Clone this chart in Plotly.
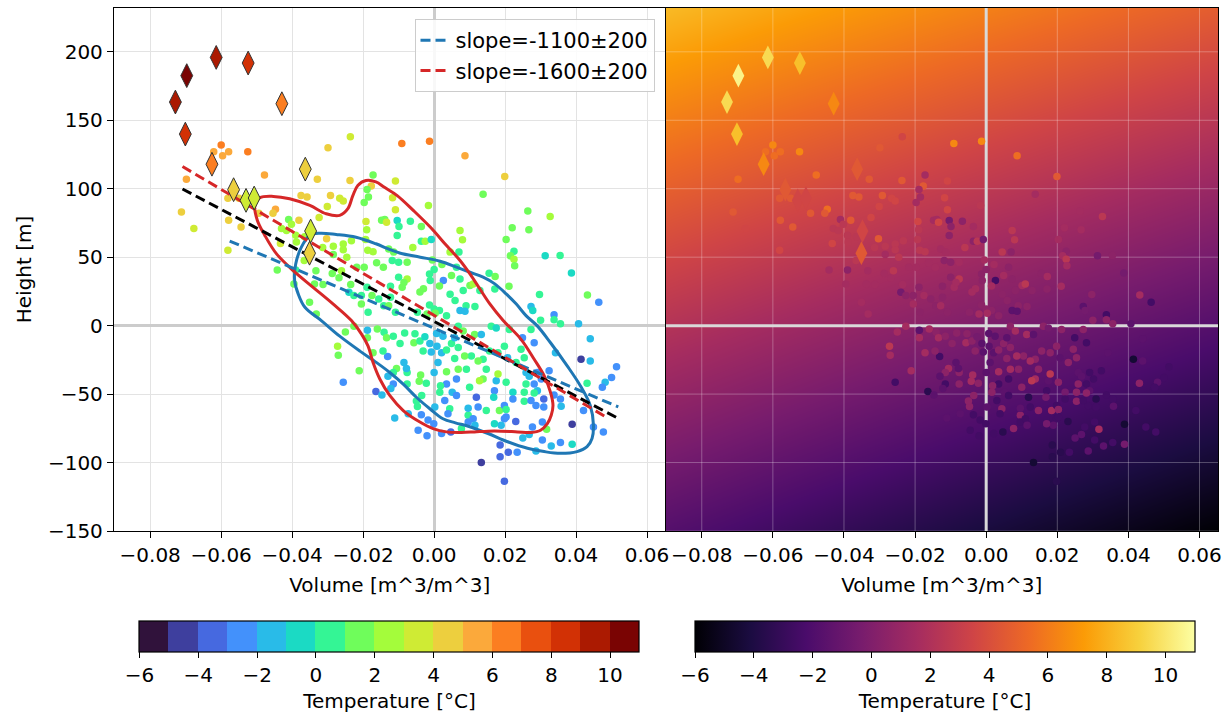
import plotly.graph_objects as go

# ---------------- data ----------------
# scatter points: volume [m^3/m^3], height [m], temperature [°C]
vol_a = [-0.0600,-0.0621,-0.0596,-0.0579,-0.0525,-0.0478,-0.0698,-0.0712,-0.0677,-0.0579,
         -0.0544,-0.0581,-0.0581,-0.0550,-0.0494,-0.0447,-0.0454,-0.0299,-0.0236,-0.0329,
         -0.0237,-0.0375,-0.0358,-0.0292,-0.0266,-0.0256,-0.0301,-0.0324,-0.0381,-0.0410,
         -0.0430,-0.0402,-0.0416,-0.0390,-0.0433,-0.0388,-0.0365,-0.0172,-0.0177,-0.0189,
         -0.0197,-0.0185,-0.0192,-0.0190,-0.0193,-0.0148,-0.0187,-0.0172,-0.0303,-0.0284,
         -0.0256,-0.0256,-0.0233,-0.0314,-0.0284,-0.0246,-0.0218,-0.0197,-0.0162,-0.0143,
         -0.0442,-0.0390,-0.0366,-0.0333,-0.0313,-0.0287,-0.0268,-0.0261,-0.0235,-0.0240,
         -0.0226,-0.0205,-0.0189,-0.0175,-0.0156,-0.0142,-0.0186,-0.0205,-0.0337,-0.0351,
         -0.0332,-0.0395]
hgt_a = [132,127,124,127,127,110,107,83,71,77,
         72,55,93,93,82,85,82,130,138,107,
         106,95,94,95,93,91,87,79,77,77.6,
         71,74,69.5,66,60,61,65,110,102,99.5,
         90,94,76,70,63,77,55,54,63.4,58,
         59.6,55.5,62,57,52,50,42.7,42.7,46,42.7,
         40.7,40.7,47.6,40,30,38,35,40,30,24.4,
         22,22,28,22,19.5,14.6,9.8,15.8,30.5,17,
         8.5,30.5]
tmp_a = [6.5,5.5,5.5,5.5,6.5,5.5,5.5,4.5,3.5,4.5,
         4.5,3.5,4.5,4.5,4.5,5.5,4.5,4.5,3.5,4.5,
         4.5,4.5,4.5,4.5,3.5,3.5,3.5,3.5,4.5,1.5,
         2.5,2.5,2.5,2.5,3.5,2.5,2.5,1.5,4.5,1.5,
         1.5,1.5,3.5,2.5,2.5,1.5,2.5,2.5,4.5,2.5,
         2.5,2.5,2.5,2.5,1.5,2.5,1.5,1.5,1.5,1.5,
         1.5,0.5,2.5,1.5,1.5,1.5,1.5,2.5,1.5,-0.5,
         0.5,0.5,0.5,1.5,0.5,0.5,0.5,1.5,1.5,1.5,
         1.5,1.5]

vol_b = [-0.0091,-0.0013,0.0087,0.0199,-0.0109,-0.0117,-0.0109,-0.0016,0.0138,0.0264,
         0.0327,-0.0139,-0.0134,-0.0104,-0.0099,-0.0104,-0.0067,-0.0036,0.0073,0.0080,
         0.0220,0.0267,0.0203,0.0225,0.0215,0.0225,0.0227,0.0313,0.0355,0.0387,
         0.0432,0.0464,0.0297,0.0273,0.0278,0.0338,-0.0060,-0.0036,-0.0025,-0.0008,
         -0.0128,-0.0114,-0.0118,-0.0100,-0.0076,-0.0005,0.0022,0.0045,0.0070,0.0063,
         0.0073,0.0049,-0.0013,-0.0011,0.0000,0.0026,0.0015,-0.0030,-0.0040,-0.0076,
         -0.0090,-0.0100,-0.0123,-0.0085,0.0045,0.0059,0.0082,0.0101,0.0110,0.0129,
         0.0155,0.0172,0.0171,0.0211,0.0090,0.0115,0.0073,0.0087,-0.0013,0.0000,
         0.0015,0.0035,-0.0047,-0.0020,0.0003,-0.0123,-0.0109,-0.0128]
hgt_b = [133,134.6,124,109,105.6,93.4,84.6,87.8,95.9,83.7,
         79.8,77.6,75.6,76.8,72.4,65.9,76.3,72.4,69.5,62.7,
         71.5,70,63,54.4,51,48.5,43.7,51,51.2,38.5,
         22.4,17,22.7,14,11,8,57,61.7,61.7,63,
         56,53.7,47.6,46.3,46.3,48,44.6,53.7,53.7,42.7,
         34,36.6,37.8,33,41,33,29,27,24.5,34.1,
         28,35.4,28.8,31.5,23,18.3,25.6,29.3,30.5,25.6,
         38.3,35.9,26.8,28.8,14.6,13.9,11,10.5,15,12.2,
         11,7.3,9.8,8.5,9,20.7,9.8,14.6]
tmp_b = [6.5,6.5,5.5,4.5,3.5,3.5,3.5,2.5,1.5,1.5,
         2.5,1.5,3.5,-0.5,0.5,0.5,0.5,1.5,2.5,2.5,
         1.5,1.5,1.5,0.5,1.5,2.5,1.5,-0.5,0.5,-0.5,
         1.5,-2.5,0.5,-1.5,-0.5,-2.5,2.5,0.5,2.5,-0.5,
         1.5,1.5,0.5,0.5,1.5,1.5,1.5,2.5,0.5,0.5,
         0.5,1.5,0.5,0.5,0.5,-2.5,1.5,1.5,1.5,2.5,
         1.5,0.5,0.5,1.5,0.5,0.5,0.5,1.5,2.5,0.5,
         0.5,1.5,0.5,1.5,0.5,0.5,-1.5,-1.5,0.5,0.5,
         0.5,0.5,0.5,1.5,1.5,0.5,0.5,1.5]

vol_c = [-0.0272,-0.0270,-0.0211,-0.0256,-0.0164,-0.0147,-0.0131,-0.0144,-0.0172,-0.0188,
         -0.0226,-0.0250,-0.0188,-0.0160,-0.0141,-0.0134,-0.0115,-0.0096,-0.0083,-0.0054,
         -0.0057,-0.0040,-0.0026,-0.0012,-0.0031,-0.0008,0.0008,0.0021,0.0035,0.0011,
         0.0000,0.0035,0.0007,0.0025,0.0049,0.0058,0.0058,0.0063,0.0068,0.0035,
         0.0018,0.0016,0.0030,0.0051,0.0044,0.0039,0.0002,-0.0017,-0.0001,0.0021,
         0.0047,-0.0020,-0.0045,-0.0036,-0.0047,-0.0050,-0.0073,-0.0111,-0.0035,-0.0042,
         -0.0038,-0.0022,-0.0076,-0.0076,-0.0085,-0.0078,-0.0106,-0.0115,-0.0130,-0.0115,
         -0.0122]
hgt_c = [-15,-21.7,-33,-41.4,-48.2,-50.6,-22.6,-18.6,-19.8,-8.9,
         -0.5,-4.6,-3.4,-2.4,-4.8,-8.9,-7.7,-13,-5.3,-6,
         -12.5,-11.3,-8.2,-13,-18.6,-19.3,-15,-19.8,-17.8,-27,
         -34.2,-33.7,-5.8,-7.7,-13,-8.9,-24,-39,-31.8,-42.7,
         -43.9,-48.7,-54.7,-48.7,-60.7,-64.3,-59.5,-69,-71.6,-78.8,
         -77.6,-80.5,-76.4,-65,-59,-55,-64.3,-67.5,-51,-40.7,
         -36,-42,-42.7,-34.2,-27,-31.3,-31.3,-34.2,-37,-42.7,
         -46]
tmp_c = [2.5,1.5,1.5,-2.5,-3.5,-1.5,-2.5,0.5,1.5,1.5,
         1.5,1.5,-1.5,1.5,0.5,1.5,0.5,0.5,0.5,0.5,
         1.5,0.5,-0.5,-1.5,0.5,-1.5,-1.5,-1.5,0.5,-1.5,
         -1.5,1.5,-1.5,-1.5,0.5,-1.5,0.5,-2.5,1.5,-2.5,
         0.5,0.5,-2.5,-1.5,0.5,-2.5,-1.5,-2.5,-2.5,-2.5,
         -3.5,-2.5,-2.5,-2.5,0.5,0.5,-1.5,-1.5,0.5,1.5,
         1.5,0.5,0.5,0.5,-1.5,-1.5,1.5,0.5,-1.5,-2.5,
         -1.5]

vol_d = [0.0068,0.0082,0.0114,0.0133,0.0161,0.0175,0.0212,0.0249,0.0273,0.0282,
         0.0300,0.0338,0.0356,0.0407,0.0440,0.0414,0.0440,0.0514,0.0500,0.0482,
         0.0474,0.0431,0.0342,0.0324,0.0291,0.0302,0.0282,0.0309,0.0291,0.0338,
         0.0356,0.0358,0.0309,0.0287,0.0421,0.0449,0.0477,0.0389,0.0317,0.0305,
         0.0277,0.0268,0.0305,0.0330,0.0356,0.0389,0.0287,0.0234,0.0209,0.0186,
         0.0186,0.0133,0.0198,0.0250,0.0230,0.0198,0.0189,0.0170,0.0096,0.0096,
         0.0110,0.0115,0.0077,0.0119,0.0096,0.0124,0.0147,0.0184,0.0198,0.0203,
         0.0203,0.0170,0.0168,0.0222,0.0222,0.0254,0.0254,0.0273,0.0282,0.0259,
         0.0203,0.0175,0.0180,0.0138,0.0128,0.0147,0.0138,0.0105,0.0124,0.0091,
         0.0100,0.0068,0.0086,0.0156,0.0180,0.0207,0.0231,0.0254,0.0245,0.0198,
         0.0259,0.0268,0.0063]
hgt_d = [-0.5,-4,-6.5,-6.5,-0.5,-1.7,-2.9,-8.9,-2.9,-12.5,
         3.9,4.3,1.4,1.4,-9.6,-24.6,-25.8,-30.1,-37.8,-41.4,
         -45,-42,-19.8,-33,-34.2,-39,-42.7,-53.5,-47.5,-50.6,
         -53.5,-58.8,-59.5,-58.3,-62,-74,-77.6,-72,-75.7,-70.4,
         -74,-79.5,-83.6,-88,-85.3,-86.7,-91.6,-92.5,-92.5,-95.7,
         -87.2,-100,-113.7,-82,-70,-68,-72.8,-71.6,-65.5,-70.4,
         -68,-72.8,-75.2,-52.3,-60.3,-59.5,-62,-62,-58.3,-61.2,
         -66.7,-47.5,-52.3,-48.7,-53.5,-55.2,-48.7,-54.7,-49.2,-42.7,
         -41.4,-40.2,-35.4,-39,-40.2,-31.8,-24.6,-22.2,-25.8,-31.8,
         -45,-16,-22.2,-18.5,-19.8,-23.4,-27,-23.4,-17.3,-15,
         -34.2,-37,-51]
tmp_d = [0.5,1.5,1.5,-1.5,0.5,-0.5,0.5,-2.5,0.5,-2.5,
         0.5,0.5,0.5,-1.5,-1.5,-4.5,-1.5,-2.5,-2.5,-1.5,
         -2.5,0.5,-1.5,-2.5,-2.5,-2.5,-2.5,-3.5,-1.5,-2.5,
         -2.5,-1.5,-2.5,-2.5,-2.5,-2.5,-2.5,-4.5,1.5,-2.5,
         -2.5,-1.5,-2.5,-1.5,-2.5,-0.5,-1.5,-2.5,-3.5,-3.5,
         -3.5,-4.5,-3.5,-1.5,-3.5,-2.5,-1.5,-0.5,0.5,-2.5,
         -2.5,-1.5,0.5,-3.5,-1.5,-2.5,0.5,1.5,-2.5,0.5,
         -2.5,-2.5,-0.5,-0.5,-2.5,0.5,0.5,-2.5,0.5,0.5,
         0.5,-1.5,2.5,1.5,2.5,0.5,0.5,0.5,1.5,0.5,
         0.5,0.5,1.5,0.5,0.5,-1.5,0.5,0.5,0.5,0.5,
         -1.5,-1.5,-2.5]

volume = vol_a + vol_b + vol_c + vol_d
height = hgt_a + hgt_b + hgt_c + hgt_d
temperature = tmp_a + tmp_b + tmp_c + tmp_d

# highlighted diamonds
dia_vol = [-0.0729,-0.0697,-0.0614,-0.0524,-0.0429,-0.0701,-0.0626,-0.0363,-0.0565,-0.0530,-0.0507,-0.0348,-0.0351]
dia_hgt = [163.3,182.6,195.9,191.8,162.1,139.9,117.9,114.3,99.3,91.5,93.2,69.1,52.9]
dia_tmp = [9.5,10.5,9.5,8.5,6.5,8.5,6.5,4.5,4.5,3.5,3.5,3.5,4.5]

# density contours (traced)
blue_cont_x = [-0.0350,-0.0322,-0.0276,-0.0220,-0.0164,-0.0124,-0.0095,-0.0039,0.0017,0.0063,
               0.0101,0.0138,0.0171,0.0203,0.0231,0.0259,0.0290,0.0328,0.0375,0.0412,
               0.0440,0.0449,0.0445,0.0431,0.0403,0.0356,0.0310,0.0263,0.0207,0.0152,
               0.0096,0.0060,0.0025,-0.0012,-0.0050,-0.0087,-0.0125,-0.0162,-0.0209,-0.0266,
               -0.0317,-0.0364,-0.0383,-0.0393,-0.0390,-0.0374,-0.0350]
blue_cont_y = [66,67.5,66.6,64.6,59.8,55.5,52.9,50,47,42.7,
               39,35.4,30.5,23.2,15.9,7.3,0,-12.5,-29.4,-43.9,
               -58.3,-72.8,-82.4,-88.4,-92,-93.3,-92,-89.6,-84.8,-78.8,
               -73.5,-71,-68,-60.7,-52.3,-42.7,-34.2,-27,-18.6,-7.7,
               3.5,13.4,23.2,32.9,45,57.3,66]
red_cont_x = [-0.0505,-0.0491,-0.0453,-0.0407,-0.0350,-0.0304,-0.0266,-0.0243,-0.0229,-0.0215,
              -0.0192,-0.0164,-0.0140,-0.0104,-0.0058,-0.0011,0.0035,0.0073,0.0101,0.0129,
              0.0157,0.0194,0.0245,0.0282,0.0310,0.0328,0.0335,0.0330,0.0319,0.0300,
              0.0273,0.0235,0.0189,0.0152,0.0114,0.0077,0.0035,-0.0003,-0.0040,-0.0087,
              -0.0125,-0.0153,-0.0172,-0.0186,-0.0205,-0.0233,-0.0285,-0.0341,-0.0397,-0.0444,
              -0.0477,-0.0498,-0.0505]
red_cont_y = [88,93.4,94.4,92.7,87.8,81.7,80.5,85.4,95,102.4,
              106,105,101,95,84,72,58.5,47.6,37.8,26.8,
              15.9,4,-10,-24.6,-36.6,-48.7,-58.3,-65.5,-71.6,-76.4,
              -78,-77.6,-77.1,-77.1,-77.6,-78,-77.6,-75.2,-70.4,-62,
              -51,-39,-27,-15,-6,3.7,15.9,28,40.2,52.4,
              65.9,76.8,88]

# fitted lines (end points)
black_fit_x = [-0.0709, 0.0519]
black_fit_y = [99.8, -67.8]
red_fit_x = [-0.0709, 0.0488]
red_fit_y = [116.2, -67.3]
blue_fit_x = [-0.0576, 0.0519]
blue_fit_y = [61.8, -59.4]
legend_labels = ["slope=-1100±200", "slope=-1600±200"]

# background temperature field of the right panel (corner / mid values)
heat_x = [-0.0902, -0.0125, 0.0652]
heat_y = [-150, 41, 232]
heat_z = [[-1.8, -3.9, -6.0],
          [3.3, 1.3, -0.7],
          [8.3, 6.5, 4.7]]

# axes
x_range = [-0.0902, 0.0652]
y_range = [-150, 232]
x_ticks = [-0.08, -0.06, -0.04, -0.02, 0.0, 0.02, 0.04, 0.06]
x_ticktext = ["\u22120.08", "\u22120.06", "\u22120.04", "\u22120.02", "0.00", "0.02", "0.04", "0.06"]
y_ticks = [-150, -100, -50, 0, 50, 100, 150, 200]
y_ticktext = ["\u2212150", "\u2212100", "\u221250", "0", "50", "100", "150", "200"]
cbar_ticks = [-6, -4, -2, 0, 2, 4, 6, 8, 10]
cbar_ticktext = ["\u22126", "\u22124", "\u22122", "0", "2", "4", "6", "8", "10"]
t_min, t_max = -6, 11

turbo17 = ["#30123b", "#3e3f9e", "#4669e0", "#4391fb", "#29bbe8", "#1bdac4",
           "#34f595", "#6ffd5b", "#a4fc3b", "#cfeb34", "#edcf3e", "#fba93b",
           "#fb7e21", "#e9500f", "#d23105", "#ab1a01", "#7a0403"]

# ---------------- figure ----------------
FONT = "DejaVu Sans"
FS = 20

step_scale = []
n = len(turbo17)
for i, c in enumerate(turbo17):
    step_scale.append([i / n, c])
    step_scale.append([(i + 1) / n, c])

fig = go.Figure()

# left panel
fig.add_trace(go.Scatter(x=volume, y=height, mode="markers", showlegend=False,
                         marker=dict(size=7.5, color=temperature, coloraxis="coloraxis"),
                         xaxis="x", yaxis="y"))
fig.add_trace(go.Scatter(x=blue_cont_x, y=blue_cont_y, mode="lines", showlegend=False,
                         line=dict(color="#1f77b4", width=3, shape="spline", smoothing=1),
                         xaxis="x", yaxis="y"))
fig.add_trace(go.Scatter(x=red_cont_x, y=red_cont_y, mode="lines", showlegend=False,
                         line=dict(color="#d62728", width=3, shape="spline", smoothing=1),
                         xaxis="x", yaxis="y"))
fig.add_trace(go.Scatter(x=black_fit_x, y=black_fit_y, mode="lines", showlegend=False,
                         line=dict(color="black", width=3, dash="10px,5px"),
                         xaxis="x", yaxis="y"))
fig.add_trace(go.Scatter(x=blue_fit_x, y=blue_fit_y, mode="lines", name=legend_labels[0],
                         line=dict(color="#1f77b4", width=3, dash="10px,5px"),
                         xaxis="x", yaxis="y"))
fig.add_trace(go.Scatter(x=red_fit_x, y=red_fit_y, mode="lines", name=legend_labels[1],
                         line=dict(color="#d62728", width=3, dash="10px,5px"),
                         xaxis="x", yaxis="y"))
fig.add_trace(go.Scatter(x=dia_vol, y=dia_hgt, mode="markers", showlegend=False,
                         marker=dict(symbol="diamond-tall", size=17, color=dia_tmp,
                                     coloraxis="coloraxis",
                                     line=dict(color="#333333", width=1)),
                         xaxis="x", yaxis="y"))

# right panel
fig.add_trace(go.Heatmap(x=heat_x, y=heat_y, z=heat_z, zsmooth="best",
                         coloraxis="coloraxis2", xaxis="x2", yaxis="y2", hoverinfo="skip"))
gx, gy = [], []
for xv in x_ticks:
    gx += [xv, xv, None]
    gy += [y_range[0], y_range[1], None]
for yv in y_ticks:
    gx += [x_range[0], x_range[1], None]
    gy += [yv, yv, None]
fig.add_trace(go.Scatter(x=gx, y=gy, mode="lines", showlegend=False, hoverinfo="skip",
                         line=dict(color="rgba(255,255,255,0.28)", width=1),
                         xaxis="x2", yaxis="y2"))
fig.add_trace(go.Scatter(x=[0, 0, None, x_range[0], x_range[1]],
                         y=[y_range[0], y_range[1], None, 0, 0],
                         mode="lines", showlegend=False, hoverinfo="skip",
                         line=dict(color="#d9d9d9", width=3), xaxis="x2", yaxis="y2"))
fig.add_trace(go.Scatter(x=volume, y=height, mode="markers", showlegend=False,
                         marker=dict(size=7.5, color=temperature, coloraxis="coloraxis2"),
                         xaxis="x2", yaxis="y2"))
fig.add_trace(go.Scatter(x=dia_vol, y=dia_hgt, mode="markers", showlegend=False,
                         marker=dict(symbol="diamond-tall", size=17, color=dia_tmp,
                                     coloraxis="coloraxis2"),
                         xaxis="x2", yaxis="y2"))

axis_common = dict(range=x_range, tickvals=x_ticks, ticktext=x_ticktext, ticks="outside",
                   ticklen=6, tickwidth=1.3, tickcolor="black", showline=True, mirror=True,
                   linecolor="black", linewidth=1.3, automargin=False,
                   title=dict(text="Volume [m^3/m^3]", standoff=11, font=dict(size=FS)),
                   tickfont=dict(size=FS))
cb_common = dict(orientation="h", xref="container", yref="container", lenmode="fraction",
                 len=500 / 1225, thickness=31, thicknessmode="pixels", ypad=0, xpad=0,
                 y=1 - 621 / 717, yanchor="top", tickvals=cbar_ticks, ticktext=cbar_ticktext,
                 ticks="outside", ticklen=6, tickwidth=1.2, tickcolor="black",
                 tickfont=dict(size=FS), outlinewidth=1.2, outlinecolor="black",
                 title=dict(text="Temperature [°C]", side="bottom", font=dict(size=FS)))

fig.update_layout(
    width=1225, height=717,
    margin=dict(l=0, r=0, t=0, b=0, autoexpand=False),
    paper_bgcolor="white", plot_bgcolor="white",
    font=dict(family=FONT, size=FS, color="black"),
    xaxis=dict(domain=[114 / 1225, 665.5 / 1225], anchor="y", showgrid=True,
               gridcolor="#e3e3e3", gridwidth=1, zeroline=True, zerolinecolor="#cccccc",
               zerolinewidth=2.5, **axis_common),
    yaxis=dict(domain=[1 - 531 / 717, 1 - 8 / 717], anchor="x", range=y_range,
               tickvals=y_ticks, ticktext=y_ticktext, ticks="outside", ticklen=6,
               tickwidth=1.3, tickcolor="black", showline=True, mirror=True,
               linecolor="black", linewidth=1.3, showgrid=True, gridcolor="#e3e3e3",
               zeroline=True, zerolinecolor="#cccccc", zerolinewidth=2.5, automargin=False,
               title=dict(text="Height [m]", standoff=10, font=dict(size=FS)),
               tickfont=dict(size=FS)),
    xaxis2=dict(domain=[665.5 / 1225, 1218 / 1225], anchor="y2", showgrid=False,
                zeroline=False, **axis_common),
    yaxis2=dict(domain=[1 - 531 / 717, 1 - 8 / 717], anchor="x2", range=y_range,
                tickvals=y_ticks, showticklabels=False, ticks="", showline=True, mirror=True,
                linecolor="black", linewidth=1.3, showgrid=False, zeroline=False,
                automargin=False),
    coloraxis=dict(colorscale=step_scale, cmin=t_min, cmax=t_max,
                   colorbar=dict(x=(139.5 + 639.5) / 2 / 1225, xanchor="center", **cb_common)),
    coloraxis2=dict(colorscale="Inferno", cmin=t_min, cmax=t_max,
                    colorbar=dict(x=(695 + 1195) / 2 / 1225, xanchor="center", **cb_common)),
    legend=dict(x=654.5 / 1225, xanchor="right", y=1 - 19 / 717, yanchor="top",
                bgcolor="rgba(255,255,255,0.85)", bordercolor="#cccccc", borderwidth=1,
                font=dict(size=21), tracegroupgap=2),
)

fig.write_html("out.html", config={"displayModeBar": False},
               post_script="document.body.style.margin='0px';")
